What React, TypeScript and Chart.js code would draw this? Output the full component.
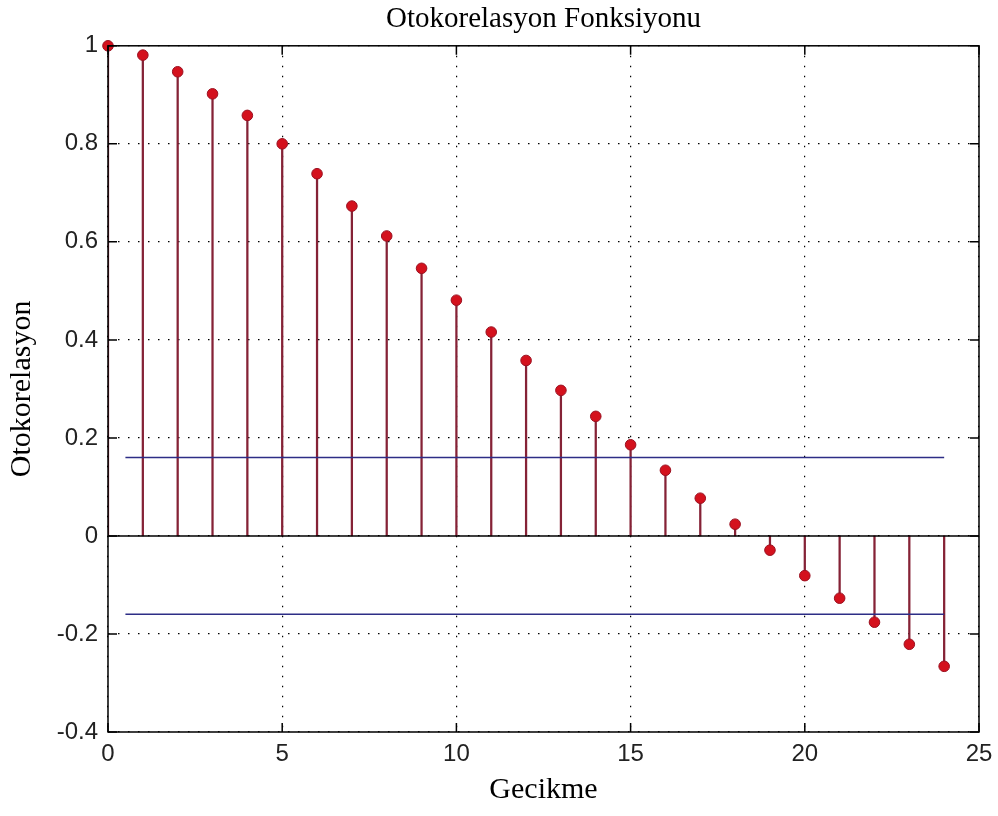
import React, { useEffect, useRef } from "react";
import { Chart, registerables } from "chart.js";

Chart.register(...registerables);

const lags: number[] = [0, 1, 2, 3, 4, 5, 6, 7, 8, 9, 10, 11, 12, 13, 14, 15, 16, 17, 18, 19, 20, 21, 22, 23, 24];
const acfValues: number[] = [
  1.0, 0.981, 0.947, 0.902, 0.858, 0.8, 0.739, 0.673, 0.612, 0.546, 0.481, 0.416, 0.358,
  0.297, 0.244, 0.186, 0.134, 0.077, 0.024, -0.029, -0.081, -0.127, -0.176, -0.221, -0.266,
];
const upperBoundX: number[] = [0.5, 24];
const upperBoundY: number[] = [0.16, 0.16];
const lowerBoundY: number[] = [-0.16, -0.16];
const zeroLineX: number[] = [0, 25];
const zeroLineY: number[] = [0, 0];

const titleText = "Otokorelasyon Fonksiyonu";
const xTitle = "Gecikme";
const yTitle = "Otokorelasyon";

const frameAndTicks = {
  id: "frameAndTicks",
  afterDraw(chart: any) {
    const { ctx, chartArea } = chart;
    const { left, right, top, bottom } = chartArea;
    const xs = chart.scales.x;
    const ys = chart.scales.y;
    const tl = 9;
    ctx.save();
    ctx.strokeStyle = "#000";
    ctx.lineWidth = 1.5;
    ctx.setLineDash([]);
    ctx.strokeRect(left, top, right - left, bottom - top);
    ctx.beginPath();
    xs.ticks.forEach((t: any) => {
      const px = xs.getPixelForValue(t.value);
      ctx.moveTo(px, bottom);
      ctx.lineTo(px, bottom - tl);
      ctx.moveTo(px, top);
      ctx.lineTo(px, top + tl);
    });
    ys.ticks.forEach((t: any) => {
      const py = ys.getPixelForValue(t.value);
      ctx.moveTo(left, py);
      ctx.lineTo(left + tl, py);
      ctx.moveTo(right, py);
      ctx.lineTo(right - tl, py);
    });
    ctx.stroke();
    ctx.restore();
  },
};

export default function App() {
  const canvasRef = useRef<HTMLCanvasElement | null>(null);

  useEffect(() => {
    document.body.style.margin = "0";
    const canvas = canvasRef.current;
    if (!canvas) return;
    const chart = new Chart(canvas, {
      type: "scatter",
      data: {
        datasets: [
          {
            type: "scatter",
            data: lags.map((x, i) => ({ x, y: acfValues[i] })),
            pointRadius: 5.3,
            pointBackgroundColor: "#d4111d",
            pointBorderColor: "#9a1020",
            pointBorderWidth: 1,
            clip: false,
            order: 0,
          } as any,
          {
            type: "line",
            data: upperBoundX.map((x, i) => ({ x, y: upperBoundY[i] })),
            borderColor: "#2d2d86",
            borderWidth: 1.5,
            pointRadius: 0,
            showLine: true,
            order: 1,
          },
          {
            type: "line",
            data: upperBoundX.map((x, i) => ({ x, y: lowerBoundY[i] })),
            borderColor: "#2d2d86",
            borderWidth: 1.5,
            pointRadius: 0,
            showLine: true,
            order: 1,
          },
          {
            type: "line",
            data: zeroLineX.map((x, i) => ({ x, y: zeroLineY[i] })),
            borderColor: "#000",
            borderWidth: 1.5,
            pointRadius: 0,
            showLine: true,
            order: 2,
          },
          {
            type: "bar",
            data: lags.map((x, i) => ({ x, y: acfValues[i] })),
            backgroundColor: "#852236",
            borderWidth: 0,
            barThickness: 1.6,
            order: 3,
          } as any,
        ],
      },
      options: {
        animation: false,
        responsive: false,
        events: [],
        layout: { padding: { left: 0, right: 19, top: 0, bottom: 0 } },
        plugins: {
          legend: { display: false },
          tooltip: { enabled: false },
          title: {
            display: true,
            text: titleText,
            fullSize: false,
            color: "#000",
            font: { family: "'Liberation Serif', 'Times New Roman', serif", size: 29, weight: "normal", lineHeight: 1.2 },
            padding: { top: 2, bottom: 9 },
          },
        },
        scales: {
          x: {
            type: "linear",
            min: 0,
            max: 25,
            offset: false,
            afterFit: (s: any) => {
              s.height = 84;
              s.paddingLeft = 0;
              s.paddingRight = 0;
            },
            ticks: {
              stepSize: 5,
              padding: 8,
              color: "#222",
              font: { family: "'Liberation Sans', Arial, sans-serif", size: 24 },
            },
            grid: { color: "#000", lineWidth: 1.2, drawTicks: false, offset: false },
            border: { display: false, dash: [1.5, 8.5] },
            title: {
              display: true,
              text: xTitle,
              color: "#000",
              font: { family: "'Liberation Serif', 'Times New Roman', serif", size: 30, lineHeight: 1.2 },
              padding: { top: 0, bottom: 8 },
            },
          },
          y: {
            type: "linear",
            min: -0.4,
            max: 1,
            afterFit: (s: any) => {
              s.width = 108;
              s.paddingTop = 0;
              s.paddingBottom = 0;
            },
            ticks: {
              stepSize: 0.2,
              padding: 10,
              color: "#222",
              font: { family: "'Liberation Sans', Arial, sans-serif", size: 24 },
              callback: (v: any) => String(Number(Number(v).toFixed(1))),
            },
            grid: { color: "#000", lineWidth: 1.2, drawTicks: false },
            border: { display: false, dash: [1.5, 8.5] },
            title: {
              display: true,
              text: yTitle,
              color: "#000",
              font: { family: "'Liberation Serif', 'Times New Roman', serif", size: 30, lineHeight: 1.2 },
              padding: { top: 4, bottom: 0 },
            },
          },
        },
      },
      plugins: [frameAndTicks],
    });
    return () => chart.destroy();
  }, []);

  return (
    <div style={{ width: 998, height: 816, background: "#fff" }}>
      <canvas ref={canvasRef} width={998} height={816} style={{ display: "block" }} />
    </div>
  );
}
